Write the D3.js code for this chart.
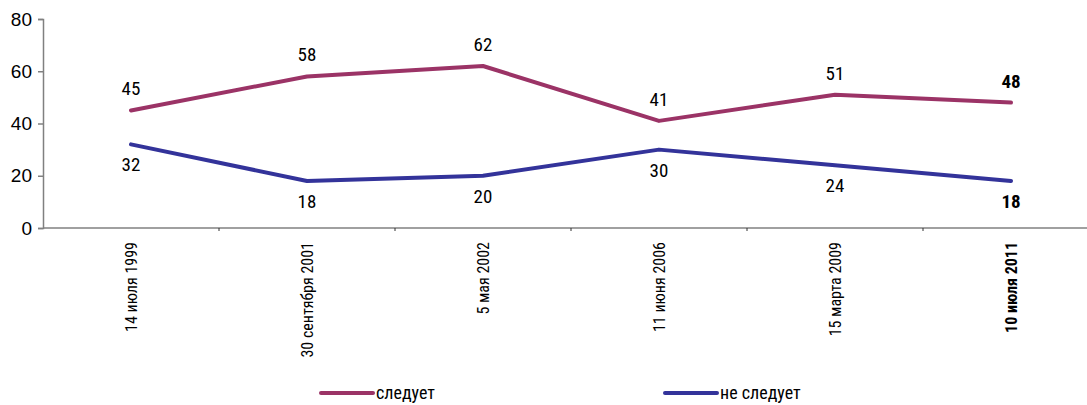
<!DOCTYPE html>
<html>
<head>
<meta charset="utf-8">
<script src="https://cdn.jsdelivr.net/npm/d3@7"></script>
<style>
  body { margin: 0; background: #fff; }
  text { font-family: "Liberation Sans Narrow", "Roboto Condensed", "DejaVu Sans Condensed", sans-serif; fill: #000; }
</style>
</head>
<body>
<script>
// data
var dates = ["14 июля 1999", "30 сентября 2001", "5 мая 2002", "11 июня 2006", "15 марта 2009", "10 июля 2011"];
var follow = [45, 58, 62, 41, 51, 48];
var notFollow = [32, 18, 20, 30, 24, 18];
var yTicks = [0, 20, 40, 60, 80];

var width = 1087, height = 405;
var marginLeft = 43, plotTop = 19, plotBottom = 228;
var band = 176;

var svg = d3.select("body")
    .append("svg")
    .attr("width", width)
    .attr("height", height);

var x = d3.scaleBand()
    .domain(dates)
    .range([marginLeft, marginLeft + band * dates.length]);

var y = d3.scaleLinear()
    .domain([0, 80])
    .range([plotBottom, plotTop]);

var cx = function (d) { return x(d) + x.bandwidth() / 2; };

// y axis
var yAxis = svg.append("g")
    .attr("transform", "translate(" + marginLeft + ",0)")
    .call(d3.axisLeft(y).tickValues(yTicks).tickSize(5).tickPadding(6));
yAxis.select(".domain").attr("stroke", "#808080").attr("stroke-width", 1.5);
yAxis.selectAll(".tick line").attr("stroke", "#808080").attr("stroke-width", 1.5);
yAxis.selectAll(".tick text")
    .style("font-size", "19px")
    .style("font-family", "Liberation Sans Narrow, sans-serif");

// x axis
var xAxis = svg.append("g")
    .attr("transform", "translate(0," + plotBottom + ")");
xAxis.append("line")
    .attr("x1", marginLeft).attr("x2", width)
    .attr("y1", 0).attr("y2", 0)
    .attr("stroke", "#808080").attr("stroke-width", 1.5);
xAxis.selectAll(".tk")
    .data(dates.slice(1))
    .enter().append("line")
    .attr("x1", function (d) { return x(d); })
    .attr("x2", function (d) { return x(d); })
    .attr("y1", 0).attr("y2", 3)
    .attr("stroke", "#333").attr("stroke-width", 1);
xAxis.selectAll(".lbl")
    .data(dates)
    .enter().append("text")
    .attr("transform", function (d) { return "translate(" + (cx(d) + 6) + ",14) rotate(-90)"; })
    .attr("text-anchor", "end")
    .style("font-size", "16px")
    .style("font-weight", function (d, i) { return i == dates.length - 1 ? "bold" : "normal"; })
    .text(function (d) { return d; });

var line = d3.line()
    .x(function (d, i) { return cx(dates[i]); })
    .y(function (d) { return y(d); });

var series = [
    { name: "следует", values: follow, color: "#9b3366", dy: -15 },
    { name: "не следует", values: notFollow, color: "#33339a", dy: 27 }
];

series.forEach(function (s) {
    svg.append("path")
        .datum(s.values)
        .attr("d", line)
        .attr("fill", "none")
        .attr("stroke", s.color)
        .attr("stroke-width", 4)
        .attr("stroke-linecap", "round")
        .attr("stroke-linejoin", "round");

    svg.selectAll(null)
        .data(s.values)
        .enter().append("text")
        .attr("x", function (d, i) { return cx(dates[i]); })
        .attr("y", function (d) { return y(d) + s.dy; })
        .attr("text-anchor", "middle")
        .style("font-size", "19px")
        .style("font-weight", function (d, i) { return i == s.values.length - 1 ? "bold" : "normal"; })
        .text(function (d) { return d; });
});

// legend
var legendX = [321, 665];
series.forEach(function (s, i) {
    var g = svg.append("g").attr("transform", "translate(" + legendX[i] + ",393)");
    g.append("line")
        .attr("x1", 0).attr("x2", 52)
        .attr("stroke", s.color)
        .attr("stroke-width", 4)
        .attr("stroke-linecap", "round");
    g.append("text")
        .attr("x", 55)
        .attr("y", 6)
        .style("font-size", "18px")
        .text(s.name);
});
</script>
</body>
</html>
